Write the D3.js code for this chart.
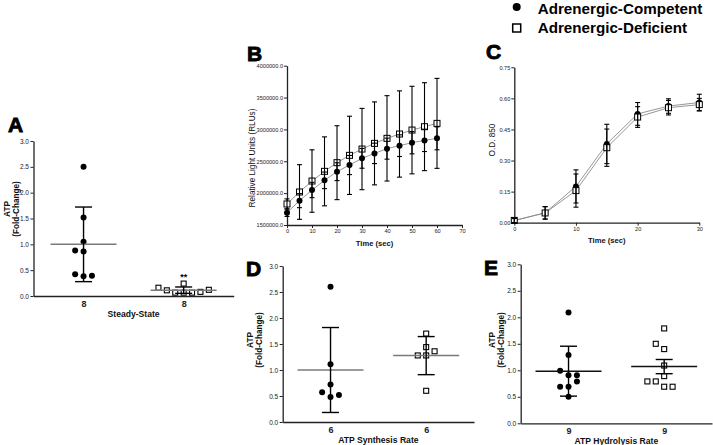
<!DOCTYPE html>
<html><head><meta charset="utf-8">
<script src="https://cdn.jsdelivr.net/npm/d3@7"></script>
<style>
body{margin:0;background:#fff;}
svg{display:block;}
text{font-family:"Liberation Sans",Arial,sans-serif;}
</style></head><body>
<svg id="chart" width="713" height="445"></svg>
<script>
// ---------------- DATA ----------------
const seriesNames = ["Adrenergic-Competent", "Adrenergic-Deficient"];
const panelLetters = ["A", "B", "C", "D", "E"];
const foldLabel = ["ATP", "(Fold-Change)"];
const foldTicks = [0, 0.5, 1, 1.5, 2, 2.5, 3];

// Panel A: steady-state ATP
const aTitle = "Steady-State";
const aCompetent = [2.5, 1.52, 1.05, 0.86, 0.88, 0.38, 0.42, 0.39];
const aDeficient = [0.24, 0.065, 0.065, 0.065, 0.11, 0.08, 0.16, 0.12];
const aErrorKind = ["SD", "SD"];
const aSignificance = ["", "**"];

// Panel D: ATP synthesis rate
const dTitle = "ATP Synthesis Rate";
const dCompetent = [2.6, 1.11, 0.72, 0.48, 0.57, 0.52];
const dDeficient = [1.70, 1.44, 1.28, 1.28, 1.36, 0.60];
const dErrorKind = ["SD", "SD"];

// Panel E: ATP hydrolysis rate
const eTitle = "ATP Hydrolysis Rate";
const eCompetent = [2.09, 1.29, 0.905, 0.99, 0.905, 0.69, 0.69, 0.79, 0.5];
const eDeficient = [1.79, 1.4, 1.5, 1.09, 0.89, 0.69, 0.79, 0.69, 0.79];
const eErrorKind = ["SD", "SEM"];

// Panel B: luminescence over time
const bTime = [0, 5, 10, 15, 20, 25, 30, 35, 40, 45, 50, 55, 60];
const bCompetent = [1694000, 1882000, 2049000, 2201000, 2337000, 2441000, 2546000, 2624000, 2698000, 2745000, 2792000, 2828000, 2860000];
const bCompetentErr = [60000, 110000, 120000, 130000, 140000, 150000, 155000, 160000, 165000, 170000, 175000, 175000, 180000];
const bDeficient = [1830000, 2018000, 2190000, 2342000, 2478000, 2593000, 2692000, 2781000, 2860000, 2928000, 2990000, 3043000, 3095000];
const bDeficientErr = [80000, 429000, 490000, 541000, 580000, 614000, 638000, 651000, 670000, 677000, 687000, 690000, 706000];
const bYTicks = [1500000, 2000000, 2500000, 3000000, 3500000, 4000000];
const bXTicks = [0, 10, 20, 30, 40, 50, 60, 70];
const bYLabel = "Relative Light Units (RLUs)";
const timeLabel = "Time (sec)";

// Panel C: O.D. 850 over time
const cTime = [0, 5, 10, 15, 20, 25, 30];
const cCompetent = [0.01, 0.048, 0.175, 0.38, 0.525, 0.563, 0.58];
const cCompetentErr = [0.01, 0.03, 0.08, 0.095, 0.055, 0.035, 0.04];
const cDeficient = [0.011, 0.047, 0.155, 0.362, 0.51, 0.555, 0.57];
const cDeficientErr = [0.01, 0.03, 0.08, 0.09, 0.05, 0.035, 0.03];
const cYTicks = [0, 0.15, 0.30, 0.45, 0.60, 0.75];
const cXTicks = [0, 10, 20, 30];
const cYLabel = "O.D. 850";

// ---------------- DRAWING ----------------
const svg = d3.select("#chart");
const AX = "#222";
const narrow = "'Liberation Sans Narrow','Liberation Sans',Arial,sans-serif";

function styleAxis(g, fs, fam, bold) {
  g.select(".domain").attr("stroke", AX).attr("stroke-width", 1.3);
  g.selectAll(".tick line").attr("stroke", AX).attr("stroke-width", 1);
  g.selectAll(".tick text").attr("fill", "#222").attr("font-size", fs)
    .attr("font-family", fam).attr("font-weight", bold ? "bold" : "normal");
}

function letter(t, x, y) {
  svg.append("text").attr("x", x).attr("y", y).text(t)
    .attr("font-size", 21).attr("font-weight", "bold")
    .attr("stroke", "#000").attr("stroke-width", 0.9).attr("fill", "#000");
}

function vlabel(lines, xs, cy, fs, bold) {
  lines.forEach((t, i) => {
    svg.append("text").attr("transform", `translate(${xs[i]},${cy}) rotate(-90)`)
      .attr("text-anchor", "middle").attr("font-size", fs).attr("font-family", narrow)
      .attr("font-weight", bold ? "bold" : "normal").attr("fill", "#111").text(t);
  });
}

function swarm(values, y, step, thresh) {
  const placed = [];
  return values.map(v => {
    const py = y(v);
    let s = 0;
    for (let k = 0; k < 30; k++) {
      const cand = k === 0 ? 0 : (k % 2 ? -Math.ceil(k / 2) : Math.ceil(k / 2));
      if (!placed.some(p => p.s === cand && Math.abs(p.py - py) < thresh)) { s = cand; break; }
    }
    placed.push({ s, py });
    return { v, dx: s * step, py };
  });
}

function drawMarker(g, kind, cx, cy, size) {
  if (kind === 0) {
    g.append("circle").attr("cx", cx).attr("cy", cy).attr("r", size / 2).attr("fill", "#000");
  } else {
    g.append("rect").attr("x", cx - size / 2 + 0.5).attr("y", cy - size / 2 + 0.5)
      .attr("width", size - 1).attr("height", size - 1)
      .attr("fill", "none").attr("stroke", "#000").attr("stroke-width", 1.1);
  }
}

function scatterPanel(cfg) {
  const g = svg.append("g");
  const y = d3.scaleLinear().domain([0, 3]).range([cfg.yb, cfg.yt]);
  const x = d3.scalePoint().domain([0, 1]).range([cfg.x0, cfg.x1]).padding(0.5);
  const ya = g.append("g").attr("transform", `translate(${cfg.x0},0)`)
    .call(d3.axisLeft(y).tickValues(foldTicks).tickFormat(d3.format(".1f")).tickSize(3).tickSizeOuter(0).tickPadding(1.5));
  styleAxis(ya, 6.5, narrow, false);
  const xa = g.append("g").attr("transform", `translate(0,${cfg.yb})`)
    .call(d3.axisBottom(x).tickSize(0).tickSizeOuter(0).tickPadding(4).tickFormat(i => cfg.groups[i].length));
  styleAxis(xa, 9, "'Liberation Sans',Arial,sans-serif", true);
  xa.selectAll(".tick text").attr("dy", "0.75em");
  g.append("text").attr("x", (x(0) + x(1)) / 2).attr("y", cfg.titleY).attr("text-anchor", "middle")
    .attr("font-size", 8.6).attr("font-weight", "bold").attr("fill", "#111").text(cfg.title);

  cfg.groups.forEach((vals, i) => {
    const cx = x(i);
    const mean = d3.mean(vals);
    let err = d3.deviation(vals);
    if (cfg.errKind[i] === "SEM") err = err / Math.sqrt(vals.length);
    const pts = swarm(vals, y, 8.4, 5.5);
    pts.forEach(p => drawMarker(g, i, cx + p.dx, p.py, 6));
    g.append("line").attr("x1", cx - 33).attr("x2", cx + 33).attr("y1", y(mean)).attr("y2", y(mean))
      .attr("stroke", cfg.meanColor).attr("stroke-width", 1.5);
    g.append("line").attr("x1", cx).attr("x2", cx).attr("y1", y(mean - err)).attr("y2", y(mean + err))
      .attr("stroke", "#000").attr("stroke-width", 1.4);
    [mean - err, mean + err].forEach(v => g.append("line").attr("x1", cx - 8.5).attr("x2", cx + 8.5)
      .attr("y1", y(v)).attr("y2", y(v)).attr("stroke", "#000").attr("stroke-width", 1.4));
    if (cfg.sig && cfg.sig[i]) {
      const top = Math.max(d3.max(vals), mean + err);
      g.append("text").attr("x", cx).attr("y", y(top) - 3.5).attr("text-anchor", "middle")
        .attr("font-size", 9).attr("font-weight", "bold").text(cfg.sig[i]);
    }
  });
  letter(cfg.letter, cfg.lx, cfg.ly);
  vlabel(foldLabel, cfg.labX, cfg.labY, 8.2, true);
}

function linePanel(cfg) {
  const g = svg.append("g");
  const x = d3.scaleLinear().domain(cfg.xDomain).range([cfg.x0, cfg.x1]);
  const y = d3.scaleLinear().domain(cfg.yDomain).range([cfg.yb, cfg.yt]);
  const ya = g.append("g").attr("transform", `translate(${cfg.x0},0)`)
    .call(d3.axisLeft(y).tickValues(cfg.yTicks).tickFormat(cfg.yFmt).tickSize(3).tickSizeOuter(0).tickPadding(1));
  styleAxis(ya, 5.6, narrow, false);
  const xa = g.append("g").attr("transform", `translate(0,${cfg.yb})`)
    .call(d3.axisBottom(x).tickValues(cfg.xTicks).tickFormat(d3.format("d")).tickSize(3).tickSizeOuter(0).tickPadding(1.5));
  styleAxis(xa, 5.6, narrow, false);
  g.append("text").attr("x", (cfg.x0 + cfg.x1) / 2 + cfg.titleDx).attr("y", cfg.titleY).attr("text-anchor", "middle")
    .attr("font-size", 7.6).attr("font-weight", "bold").attr("font-family", narrow).attr("fill", "#111").text(timeLabel);

  const line = d3.line().x((d, i) => x(cfg.t[i])).y(d => y(d));
  cfg.series.forEach(s => {
    g.append("path").attr("d", line(s.v)).attr("fill", "none").attr("stroke", "#8a8a8a").attr("stroke-width", 0.9);
  });
  cfg.series.forEach((s, k) => {
    s.v.forEach((v, i) => {
      const cx = x(cfg.t[i]);
      if (k === 0) g.append("circle").attr("cx", cx).attr("cy", y(v)).attr("r", 3).attr("fill", "#000");
      else g.append("rect").attr("x", cx - 3).attr("y", y(v) - 3).attr("width", 6).attr("height", 6)
        .attr("fill", "#fff").attr("stroke", "#000").attr("stroke-width", 1);
    });
  });
  cfg.series.forEach(s => {
    s.v.forEach((v, i) => {
      const cx = x(cfg.t[i]);
      const lo = v - s.e[i], hi = v + s.e[i];
      g.append("line").attr("x1", cx).attr("x2", cx).attr("y1", y(lo)).attr("y2", y(hi))
        .attr("stroke", "#000").attr("stroke-width", 1.1);
      [lo, hi].forEach(w => g.append("line").attr("x1", cx - 2.5).attr("x2", cx + 2.5)
        .attr("y1", y(w)).attr("y2", y(w)).attr("stroke", "#000").attr("stroke-width", 1.1));
    });
  });
  letter(cfg.letter, cfg.lx, cfg.ly);
  svg.append("text").attr("transform", `translate(${cfg.labX},${cfg.labY}) rotate(-90)`)
    .attr("text-anchor", "middle").attr("font-size", 8.2).attr("fill", "#111").text(cfg.yLabel);
}

// Panel A
scatterPanel({ x0: 33.5, x1: 233.7, yt: 141, yb: 296, groups: [aCompetent, aDeficient], errKind: aErrorKind,
  sig: aSignificance, title: aTitle, titleY: 316.5, meanColor: "#7a7a7a", letter: panelLetters[0], lx: 8, ly: 132,
  labX: [10, 18.5], labY: 209 });
// Panel D
scatterPanel({ x0: 282.7, x1: 474, yt: 266, yb: 422, groups: [dCompetent, dDeficient], errKind: dErrorKind,
  title: dTitle, titleY: 442.5, meanColor: "#7a7a7a", letter: panelLetters[3], lx: 246, ly: 276,
  labX: [253, 262], labY: 340 });
// Panel E
scatterPanel({ x0: 520.7, x1: 712, yt: 264.3, yb: 423.3, groups: [eCompetent, eDeficient], errKind: eErrorKind,
  title: eTitle, titleY: 444, meanColor: "#111", letter: panelLetters[4], lx: 484, ly: 275,
  labX: [495, 504], labY: 340 });

// Panel B
linePanel({ x0: 287, x1: 462, yt: 65.7, yb: 225, xDomain: [0, 70], yDomain: [1500000, 4000000],
  yTicks: bYTicks, xTicks: bXTicks, yFmt: d3.format(".1f"), t: bTime,
  series: [{ v: bCompetent, e: bCompetentErr }, { v: bDeficient, e: bDeficientErr }],
  titleY: 246, titleDx: 0, letter: panelLetters[1], lx: 247, ly: 61, labX: 255, labY: 158, yLabel: bYLabel });
// Panel C
linePanel({ x0: 514.3, x1: 699.3, yt: 67.3, yb: 222.7, xDomain: [0, 30], yDomain: [0, 0.75],
  yTicks: cYTicks, xTicks: cXTicks, yFmt: d3.format(".2f"), t: cTime,
  series: [{ v: cCompetent, e: cCompetentErr }, { v: cDeficient, e: cDeficientErr }],
  titleY: 243, titleDx: 0, letter: panelLetters[2], lx: 486, ly: 59, labX: 495, labY: 140, yLabel: cYLabel });

// Legend
const leg = svg.append("g");
leg.append("circle").attr("cx", 516.7).attr("cy", 7).attr("r", 4).attr("fill", "#000");
leg.append("rect").attr("x", 512.7).attr("y", 24).attr("width", 8).attr("height", 8)
  .attr("fill", "#fff").attr("stroke", "#000").attr("stroke-width", 1.5);
seriesNames.forEach((n, i) => {
  leg.append("text").attr("x", 537.7).attr("y", i === 0 ? 13.6 : 33).attr("font-size", 15.2)
    .attr("font-weight", "bold").attr("fill", "#000").text(n);
});
</script>
</body></html>
